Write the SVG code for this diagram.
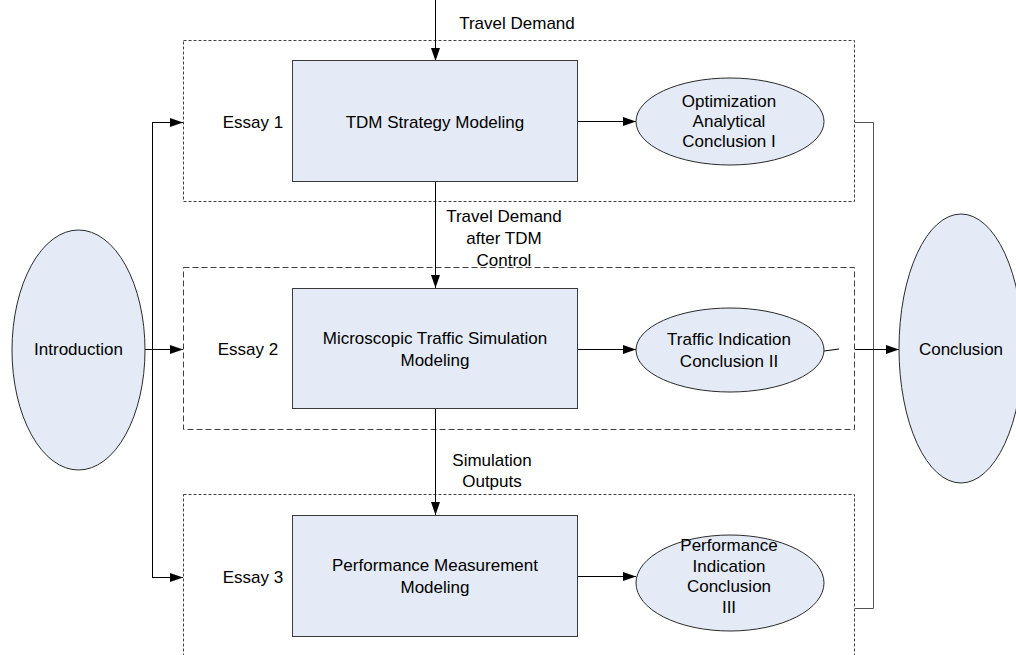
<svg xmlns="http://www.w3.org/2000/svg" width="1016" height="655" viewBox="0 0 1016 655">
<style>
.bg{fill:#ffffff}
.grp{fill:none;stroke:#404040;stroke-width:1}
.fine{stroke-dasharray:3,2}
.coarse{stroke-dasharray:6,3}
.box{fill:#e4ebf6;stroke:#3a3a3a;stroke-width:1}
.ell{fill:#e4ebf6;stroke:#2a2a2a;stroke-width:1}
.t{font-family:"Liberation Sans",Arial,sans-serif;font-size:17px;fill:#000;text-anchor:middle;dominant-baseline:central}
.c{fill:none;stroke:#000;stroke-width:1}
.cg{fill:none;stroke:#555;stroke-width:1}
</style>
<defs>
<marker id="ah" markerWidth="13" markerHeight="9" refX="13" refY="4.5" orient="auto" markerUnits="userSpaceOnUse">
<path d="M0,0 L13,4.5 L0,9 Z" fill="#000"/>
</marker>
</defs>
<rect class="bg" x="0" y="0" width="1016" height="655"/>

<g id="essay1-group">
<rect class="grp fine" x="183.5" y="40.5" width="671" height="161"/>
<text class="t" x="253" y="122">Essay 1</text>
</g>
<g id="essay2-group">
<rect class="grp coarse" x="183.5" y="267.5" width="671" height="162"/>
<text class="t" x="248" y="349">Essay 2</text>
</g>
<g id="essay3-group">
<rect class="grp fine" x="183.5" y="494.5" width="671" height="180"/>
<text class="t" x="253" y="577">Essay 3</text>
</g>

<g id="connectors">
<line class="c" x1="435.5" y1="0" x2="435.5" y2="61" marker-end="url(#ah)"/>
<line class="c" x1="435.5" y1="182" x2="435.5" y2="288" marker-end="url(#ah)"/>
<line class="c" x1="435.5" y1="409" x2="435.5" y2="515" marker-end="url(#ah)"/>
<line class="c" x1="578" y1="121.5" x2="636" y2="121.5" marker-end="url(#ah)"/>
<line class="c" x1="578" y1="349.5" x2="636" y2="349.5" marker-end="url(#ah)"/>
<line class="c" x1="578" y1="576.5" x2="636" y2="576.5" marker-end="url(#ah)"/>
<polyline class="c" points="145,349.5 183,349.5" marker-end="url(#ah)"/>
<line class="c" x1="152.5" y1="122" x2="152.5" y2="577"/>
<line class="c" x1="152" y1="122.5" x2="183" y2="122.5" marker-end="url(#ah)"/>
<line class="c" x1="152" y1="577.5" x2="183" y2="577.5" marker-end="url(#ah)"/>
<polyline class="cg" points="855,122.5 873.5,122.5 873.5,608.5 855,608.5"/>
<line class="c" x1="824" y1="351" x2="839" y2="349"/>
<line class="c" x1="855" y1="349.5" x2="899" y2="349.5" marker-end="url(#ah)"/>
<text class="t" x="517" y="23">Travel Demand</text>
<text class="t" x="504" y="216.5">Travel Demand</text>
<text class="t" x="504" y="238.5">after TDM</text>
<text class="t" x="504" y="260.5">Control</text>
<text class="t" x="492" y="460">Simulation</text>
<text class="t" x="492" y="481">Outputs</text>
</g>

<g id="introduction">
<ellipse class="ell" cx="78.5" cy="350" rx="66.5" ry="120"/>
<text class="t" x="78.5" y="349">Introduction</text>
</g>
<g id="conclusion">
<ellipse class="ell" cx="961" cy="348.5" rx="62" ry="134.5"/>
<text class="t" x="961" y="349">Conclusion</text>
</g>

<g id="tdm-model">
<rect class="box" x="292.5" y="60.5" width="285" height="121"/>
<text class="t" x="435" y="122">TDM Strategy Modeling</text>
</g>
<g id="micro-model">
<rect class="box" x="292.5" y="288.5" width="285" height="120"/>
<text class="t" x="435" y="338">Microscopic Traffic Simulation</text>
<text class="t" x="435" y="360.5">Modeling</text>
</g>
<g id="perf-model">
<rect class="box" x="292.5" y="515.5" width="285" height="121"/>
<text class="t" x="435" y="565.5">Performance Measurement</text>
<text class="t" x="435" y="587.5">Modeling</text>
</g>

<g id="optimization-conclusion">
<ellipse class="ell" cx="730" cy="121.5" rx="94" ry="43.5"/>
<text class="t" x="729" y="101.5">Optimization</text>
<text class="t" x="729" y="121.5">Analytical</text>
<text class="t" x="729" y="141.5">Conclusion I</text>
</g>
<g id="traffic-conclusion">
<ellipse class="ell" cx="730" cy="350" rx="94" ry="42"/>
<text class="t" x="729" y="339.5">Traffic Indication</text>
<text class="t" x="729" y="361">Conclusion II</text>
</g>
<g id="performance-conclusion">
<ellipse class="ell" cx="730" cy="583" rx="94" ry="48"/>
<text class="t" x="729" y="545">Performance</text>
<text class="t" x="729" y="566">Indication</text>
<text class="t" x="729" y="586.5">Conclusion</text>
<text class="t" x="729" y="607">III</text>
</g>
</svg>
